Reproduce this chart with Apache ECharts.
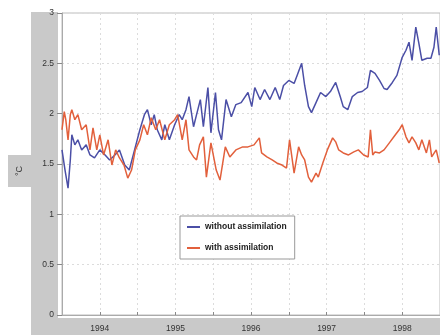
<!DOCTYPE html>
<html>
<head>
<meta charset="utf-8">
<script src="https://cdn.jsdelivr.net/npm/echarts@6/dist/echarts.min.js"></script>
<style>
  html, body { margin: 0; padding: 0; background: #fff; }
  #chart { width: 440px; height: 335px; }
</style>
</head>
<body>
<div id="chart"></div>
<script>
// without assimilation (blue)
const noAssimYears = [
  1993.50, 1993.54, 1993.58, 1993.61, 1993.63, 1993.67, 1993.71, 1993.76, 1993.82, 1993.87,
  1993.93, 1994.00, 1994.07, 1994.13, 1994.20, 1994.26, 1994.33, 1994.39, 1994.46, 1994.53,
  1994.59, 1994.63, 1994.68, 1994.72, 1994.76, 1994.82, 1994.86, 1994.92, 1994.99, 1995.05,
  1995.09, 1995.14, 1995.18, 1995.24, 1995.28, 1995.33, 1995.37, 1995.43, 1995.47, 1995.53,
  1995.57, 1995.61, 1995.67, 1995.74, 1995.80, 1995.87, 1995.96, 1996.01, 1996.05, 1996.12,
  1996.18, 1996.25, 1996.32, 1996.38, 1996.43, 1996.50, 1996.57, 1996.61, 1996.67, 1996.71,
  1996.76, 1996.80, 1996.86, 1996.92, 1996.99, 1997.05, 1997.12, 1997.18, 1997.22, 1997.28,
  1997.34, 1997.41, 1997.47, 1997.54, 1997.58, 1997.64, 1997.70, 1997.76, 1997.80, 1997.87,
  1997.93, 1998.00, 1998.05, 1998.09, 1998.13, 1998.18, 1998.22, 1998.26, 1998.33, 1998.38,
  1998.42, 1998.45, 1998.49
];
const noAssimTemps = [
  1.64, 1.44, 1.26, 1.54, 1.79, 1.69, 1.74, 1.64, 1.69, 1.59,
  1.56, 1.64, 1.59, 1.54, 1.59, 1.64, 1.49, 1.44, 1.64, 1.84,
  1.99, 2.04, 1.89, 1.99, 1.84, 1.74, 1.89, 1.74, 1.89, 1.99,
  1.94, 2.04, 2.17, 1.87, 1.99, 2.14, 1.87, 2.26, 1.81, 2.21,
  1.84, 1.74, 2.14, 1.97, 2.09, 2.11, 2.21, 2.07, 2.26, 2.14,
  2.24, 2.14, 2.26, 2.14, 2.28, 2.33, 2.30, 2.38, 2.50, 2.28,
  2.07, 2.01, 2.11, 2.21, 2.17, 2.22, 2.31, 2.17, 2.07, 2.04,
  2.17, 2.21, 2.22, 2.26, 2.43, 2.40, 2.33, 2.25, 2.24, 2.31,
  2.38, 2.56, 2.63, 2.71, 2.53, 2.86, 2.70, 2.53, 2.55, 2.55,
  2.66, 2.86, 2.58
];

// with assimilation (red)
const assimYears = [
  1993.50, 1993.53, 1993.55, 1993.58, 1993.61, 1993.63, 1993.67, 1993.71, 1993.76, 1993.82,
  1993.87, 1993.91, 1993.96, 1994.00, 1994.05, 1994.11, 1994.16, 1994.21, 1994.26, 1994.32,
  1994.37, 1994.42, 1994.47, 1994.53, 1994.58, 1994.63, 1994.68, 1994.74, 1994.79, 1994.86,
  1994.92, 1994.99, 1995.03, 1995.09, 1995.14, 1995.18, 1995.24, 1995.28, 1995.32, 1995.37,
  1995.41, 1995.47, 1995.54, 1995.59, 1995.66, 1995.72, 1995.80, 1995.89, 1995.96, 1996.04,
  1996.11, 1996.14, 1996.21, 1996.28, 1996.34, 1996.41, 1996.47, 1996.51, 1996.57, 1996.63,
  1996.67, 1996.71, 1996.76, 1996.80, 1996.86, 1996.89, 1996.95, 1997.01, 1997.08, 1997.12,
  1997.16, 1997.22, 1997.29, 1997.36, 1997.42, 1997.49, 1997.55, 1997.58, 1997.61, 1997.64,
  1997.70, 1997.76, 1997.83, 1997.89, 1997.96, 1998.00, 1998.05, 1998.09, 1998.13, 1998.18,
  1998.22, 1998.26, 1998.32, 1998.36, 1998.39, 1998.45, 1998.49
];
const assimTemps = [
  1.84, 2.02, 1.94, 1.74, 1.99, 2.04, 1.94, 1.99, 1.84, 1.89,
  1.64, 1.86, 1.64, 1.79, 1.59, 1.74, 1.49, 1.64, 1.56, 1.49,
  1.36, 1.44, 1.64, 1.74, 1.89, 1.79, 1.96, 1.84, 1.94, 1.74,
  1.89, 1.94, 1.99, 1.74, 1.94, 1.64, 1.57, 1.54, 1.69, 1.77,
  1.37, 1.71, 1.44, 1.34, 1.67, 1.57, 1.64, 1.67, 1.67, 1.69,
  1.76, 1.61, 1.57, 1.54, 1.51, 1.49, 1.46, 1.74, 1.41, 1.67,
  1.59, 1.54, 1.37, 1.32, 1.41, 1.37, 1.51, 1.64, 1.76, 1.72,
  1.64, 1.61, 1.59, 1.62, 1.64, 1.59, 1.57, 1.84, 1.59, 1.62,
  1.61, 1.64, 1.71, 1.77, 1.84, 1.89, 1.77, 1.71, 1.77, 1.71,
  1.64, 1.74, 1.61, 1.74, 1.57, 1.64, 1.51
];

const seriesNames = ['without assimilation', 'with assimilation'];
const yTicks = [0, 0.5, 1, 1.5, 2, 2.5, 3];

const pairs = (xs, ys) => xs.map((x, i) => [x, ys[i]]);

const chart = echarts.init(document.getElementById('chart'), null, { renderer: 'canvas' });

const labelFont = { color: '#333', fontSize: 8.5, fontFamily: 'Liberation Sans' };

chart.setOption({
  animation: false,
  backgroundColor: '#fff',
  graphic: [
    // grey figure background
    { type: 'rect', z: -20, shape: { x: 31, y: 12, width: 409, height: 323 }, style: { fill: '#c9c9c9' } },
    { type: 'rect', z: -20, shape: { x: 8, y: 155, width: 24, height: 32 }, style: { fill: '#c9c9c9' } },
    { type: 'rect', z: -19, shape: { x: 58, y: 12, width: 382, height: 306 }, style: { fill: '#fff' } },
    {
      type: 'text', x: 20, y: 171, rotation: Math.PI / 2,
      style: { text: '°C', fill: '#333', font: '9px Liberation Sans', align: 'center', verticalAlign: 'middle' }
    }
  ],
  grid: {
    left: 62, top: 13, width: 380, height: 302,
    show: true, borderColor: '#bdbdbd', borderWidth: 1, backgroundColor: 'transparent'
  },
  legend: {
    data: seriesNames,
    orient: 'vertical',
    left: 180, top: 216,
    backgroundColor: '#fff',
    borderColor: '#999', borderWidth: 1,
    padding: [6, 8, 6, 7],
    itemGap: 11,
    itemWidth: 13, itemHeight: 2,
    icon: 'rect',
    textStyle: { color: '#222', fontSize: 8.5, fontWeight: 'bold', fontFamily: 'Liberation Sans Narrow, Liberation Sans', lineHeight: 10 }
  },
  xAxis: {
    type: 'value',
    min: 1993.5, max: 1998.5, interval: 0.5,
    axisLine: { lineStyle: { color: '#aaa' } },
    axisTick: { inside: true, length: 3, lineStyle: { color: '#888' } },
    axisLabel: {
      ...labelFont, margin: 9,
      showMinLabel: false, showMaxLabel: false,
      formatter: v => (Math.abs(v - Math.round(v)) < 1e-6 ? String(Math.round(v)) : '')
    },
    splitLine: { show: true, lineStyle: { color: '#dcdcdc', type: [2, 3] } }
  },
  yAxis: {
    type: 'value',
    min: yTicks[0], max: yTicks[yTicks.length - 1], interval: 0.5,
    axisLine: { show: true, lineStyle: { color: '#aaa' } },
    axisTick: { show: true, length: 5, lineStyle: { color: '#888' } },
    axisLabel: { ...labelFont, margin: 8 },
    splitLine: { show: true, lineStyle: { color: '#dcdcdc', type: [2, 3] } }
  },
  series: [
    {
      name: seriesNames[0], type: 'line', showSymbol: false, symbol: 'none',
      data: pairs(noAssimYears, noAssimTemps),
      lineStyle: { color: '#4b4fa6', width: 1.5 }, itemStyle: { color: '#4b4fa6' }
    },
    {
      name: seriesNames[1], type: 'line', showSymbol: false, symbol: 'none',
      data: pairs(assimYears, assimTemps),
      lineStyle: { color: '#e2603c', width: 1.5 }, itemStyle: { color: '#e2603c' }
    }
  ]
});
</script>
</body>
</html>
